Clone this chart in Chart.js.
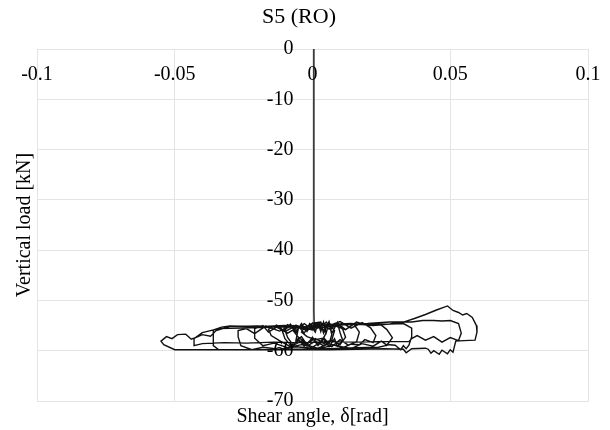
<!DOCTYPE html>
<html>
<head>
<meta charset="utf-8">
<script src="https://cdn.jsdelivr.net/npm/chart.js@4"></script>
<style>
  html, body { margin: 0; padding: 0; background: #fff; }
  canvas { display: block; }
</style>
</head>
<body>
<canvas id="shearChart" width="610" height="430"></canvas>
<script>
// tick labels
const xTickValues = [-0.1, -0.05, 0, 0.05, 0.1];
const xTickLabels = ['-0.1', '-0.05', '0', '0.05', '0.1'];
const yTickValues = [0, -10, -20, -30, -40, -50, -60, -70];
const yTickLabels = ['0', '-10', '-20', '-30', '-40', '-50', '-60', '-70'];

// shear angle [rad]
const shearAngle = [
  0.0005, 0.0005, 0.0005, 0.0005, 0.0005, 0.0005, 0.0005, 0.0006,
  0.003, 0.005, 0.004, 0.001, -0.002, -0.004, -0.003, 0.000,
  0.002, 0.003, 0.004, 0.005, 0.006, 0.007, 0.006, 0.004, 0.002, 0.000, -0.002, -0.004, -0.006, -0.005, -0.003, -0.001, 0.001,
  0.002, 0.004, 0.006, 0.008, 0.007, 0.004, 0.001, -0.002, -0.005, -0.007, -0.006, -0.003, 0.000,
  0.003, 0.004, 0.006, 0.007, 0.009, 0.010, 0.011, 0.009, 0.008, 0.006, 0.004, 0.002, 0.000, -0.003, -0.005, -0.007, -0.009, -0.010, -0.008, -0.006, -0.004, -0.002, 0.000,
  0.003, 0.005, 0.007, 0.009, 0.011, 0.012, 0.010, 0.007, 0.004, 0.001, -0.002, -0.005, -0.008, -0.010, -0.011, -0.009, -0.006, -0.003, 0.000,
  0.003, 0.006, 0.009, 0.012, 0.015, 0.017, 0.016, 0.013, 0.010, 0.007, 0.003, 0.000, -0.004, -0.008, -0.012, -0.015, -0.016, -0.013, -0.010, -0.006, -0.002, 0.001,
  0.005, 0.010, 0.014, 0.018, 0.021, 0.023, 0.022, 0.019, 0.017, 0.014, 0.011, 0.006, 0.002, -0.004, -0.009, -0.014, -0.018, -0.021, -0.021, -0.018, -0.016, -0.013, -0.009, -0.005, 0.000,
  0.006, 0.012, 0.016, 0.020, 0.024, 0.027, 0.029, 0.027, 0.025, 0.022, 0.018, 0.014, 0.008, 0.002, -0.006, -0.012, -0.018, -0.022, -0.026, -0.027, -0.027, -0.024, -0.021, -0.017, -0.012, -0.007, -0.002,
  0.006, 0.014, 0.022, 0.028, 0.033, 0.036, 0.036, 0.035, 0.034, 0.033, 0.032, 0.030, 0.028, 0.024, 0.016, 0.006, -0.006, -0.016, -0.026, -0.034, -0.036, -0.036, -0.036, -0.033, -0.030, -0.020, -0.010, 0.000,
  0.010, 0.020, 0.028, 0.036, 0.040, 0.044, 0.047, 0.050, 0.053, 0.054, 0.053, 0.050, 0.047, 0.044, 0.041, 0.038, 0.036, 0.035, 0.030, 0.024, 0.016, 0.006, -0.004, -0.014, -0.024, -0.032, -0.040, -0.043, -0.043, -0.040, -0.034, -0.026, -0.016, -0.006, 0.004,
  0.012, 0.020, 0.028, 0.033, 0.037, 0.041, 0.045, 0.049, 0.051, 0.053, 0.0545, 0.056, 0.058, 0.0595, 0.0597, 0.059, 0.055, 0.052, 0.051, 0.050, 0.049, 0.047, 0.046, 0.044, 0.043, 0.042, 0.041, 0.036, 0.034, 0.033, 0.026, 0.016, 0.006, -0.006, -0.018, -0.030, -0.042, -0.050,
  -0.054, -0.055, -0.053, -0.051, -0.049, -0.046, -0.044, -0.042, -0.040, -0.037, -0.035, -0.030, -0.020, -0.010, 0.000, 0.008
];

// vertical load [kN]
const verticalLoad = [
  0, -2, -10, -25, -40, -46, -52, -55,
  -55.6, -56.4, -57.5, -57.8, -57.2, -56.3, -55.4, -55.0,
  -54.4, -56.2, -54.3, -56.4, -54.5, -56.8, -58.6, -57.4, -58.9, -57.3, -58.8, -57.2, -57.9, -55.2, -56.5, -54.6, -56.3,
  -54.6, -55.9, -54.7, -56.0, -57.9, -58.4, -57.6, -58.5, -57.4, -56.0, -54.9, -55.6, -54.5,
  -54.3, -56.5, -54.2, -56.6, -54.4, -56.4, -58.0, -59.1, -57.6, -59.2, -57.7, -59.0, -57.5, -59.1, -57.8, -58.9, -57.4, -55.9, -54.7, -56.4, -54.6, -56.2, -54.5,
  -55.5, -54.3, -55.6, -54.5, -55.8, -57.3, -58.8, -57.9, -59.0, -58.1, -59.1, -58.0, -58.9, -57.6, -56.0, -54.8, -56.0, -54.6, -55.8,
  -54.4, -55.7, -54.5, -55.8, -54.7, -56.3, -58.2, -58.9, -57.8, -59.2, -58.3, -59.3, -58.1, -59.2, -58.0, -57.0, -55.7, -54.9, -56.2, -55.0, -56.0, -54.6,
  -55.2, -54.2, -55.5, -54.4, -55.4, -57.0, -58.4, -57.8, -58.8, -58.7, -59.4, -58.6, -59.5, -58.8, -59.4, -58.5, -59.0, -57.5, -55.6, -55.0, -56.3, -55.3, -56.5, -55.2, -55.9,
  -54.6, -55.8, -54.3, -55.0, -54.5, -55.8, -57.4, -58.9, -58.1, -59.1, -58.6, -59.6, -58.9, -59.6, -59.2, -59.7, -59.3, -59.8, -59.0, -57.2, -56.0, -55.6, -56.6, -55.1, -56.1, -55.0, -55.7,
  -54.8, -54.6, -55.0, -54.7, -54.6, -55.5, -57.2, -58.9, -59.6, -59.0, -59.8, -58.9, -58.8, -59.3, -59.4, -59.6, -59.7, -59.8, -59.8, -59.8, -59.0, -57.0, -55.9, -55.3, -55.1, -55.2, -55.0, -55.3,
  -54.8, -54.6, -54.3, -54.3, -54.0, -54.0, -54.1, -54.0, -54.6, -56.5, -58.0, -57.4, -58.3, -57.2, -57.9, -57.0, -57.6, -58.2, -58.2, -58.2, -58.3, -58.2, -58.4, -58.3, -58.5, -58.4, -58.6, -59.0, -57.6, -56.4, -55.6, -55.5, -55.3, -55.2, -55.4,
  -54.8, -54.8, -54.7, -54.3, -53.6, -52.8, -51.9, -51.1, -52.0, -52.4, -52.9, -52.6, -53.4, -55.0, -56.3, -57.9, -58.0, -58.1, -60.3, -59.8, -60.6, -59.9, -60.7, -60.0, -60.5, -59.7, -59.5, -59.6, -60.4, -59.7, -59.6, -59.7, -59.8, -59.8, -59.8, -59.8, -59.8, -59.8,
  -58.8, -58.1, -57.2, -57.6, -56.8, -56.7, -57.7, -57.3, -56.8, -57.1, -56.0, -55.2, -55.1, -55.3, -55.2, -54.9
];

const points = shearAngle.map((x, i) => ({ x: x, y: verticalLoad[i] }));

const fontFamily = '"Liberation Serif", "Times New Roman", serif';
const gridColor = '#e4e4e4';

// Excel-style tick labels that sit on the crossing axes (x=0, y=0)
const crossingLabels = {
  id: 'crossingLabels',
  afterDatasetsDraw(chart) {
    const ctx = chart.ctx;
    const xs = chart.scales.x;
    const ys = chart.scales.y;
    const zeroX = xs.getPixelForValue(0);
    const zeroY = ys.getPixelForValue(0);
    ctx.save();
    ctx.fillStyle = '#000';
    ctx.font = '20px ' + fontFamily;
    ctx.textAlign = 'center';
    ctx.textBaseline = 'middle';
    xTickValues.forEach((v, i) => {
      ctx.fillText(xTickLabels[i], xs.getPixelForValue(v), zeroY + 26);
    });
    ctx.textAlign = 'right';
    yTickValues.forEach((v, i) => {
      ctx.fillText(yTickLabels[i], zeroX - 19, ys.getPixelForValue(v));
    });
    ctx.restore();
  }
};

const ctx = document.getElementById('shearChart').getContext('2d');
const shearChart = new Chart(ctx, {
  type: 'scatter',
  data: {
    datasets: [{
      label: 'S5 (RO)',
      data: points,
      showLine: true,
      borderColor: '#111',
      borderWidth: 1.4,
      pointRadius: 0,
      tension: 0
    }]
  },
  options: {
    responsive: false,
    animation: false,
    layout: { padding: { left: 10, right: 22, top: 0, bottom: 0 } },
    plugins: {
      legend: { display: false },
      tooltip: { enabled: false },
      title: {
        display: true,
        text: 'S5 (RO)',
        color: '#000',
        font: { family: fontFamily, size: 22, weight: 'normal', lineHeight: 1.2 },
        padding: { top: 4, bottom: 18.6 }
      }
    },
    scales: {
      x: {
        type: 'linear',
        position: 'bottom',
        min: -0.1,
        max: 0.1,
        ticks: { display: false, stepSize: 0.05 },
        grid: { color: gridColor, drawTicks: false, lineWidth: 1 },
        border: { display: true, color: gridColor },
        title: {
          display: true,
          text: 'Shear angle, δ[rad]',
          color: '#000',
          font: { family: fontFamily, size: 20, lineHeight: 1.2 },
          padding: { top: 4, bottom: 1 }
        }
      },
      y: {
        type: 'linear',
        position: 'left',
        min: -70,
        max: 0,
        ticks: { display: false, stepSize: 10 },
        grid: { color: gridColor, drawTicks: false, lineWidth: 1 },
        border: { display: true, color: gridColor },
        title: {
          display: true,
          text: 'Vertical load [kN]',
          color: '#000',
          font: { family: fontFamily, size: 20, lineHeight: 1.2 },
          padding: { top: 3, bottom: 0 }
        }
      }
    }
  },
  plugins: [crossingLabels]
});
</script>
</body>
</html>
